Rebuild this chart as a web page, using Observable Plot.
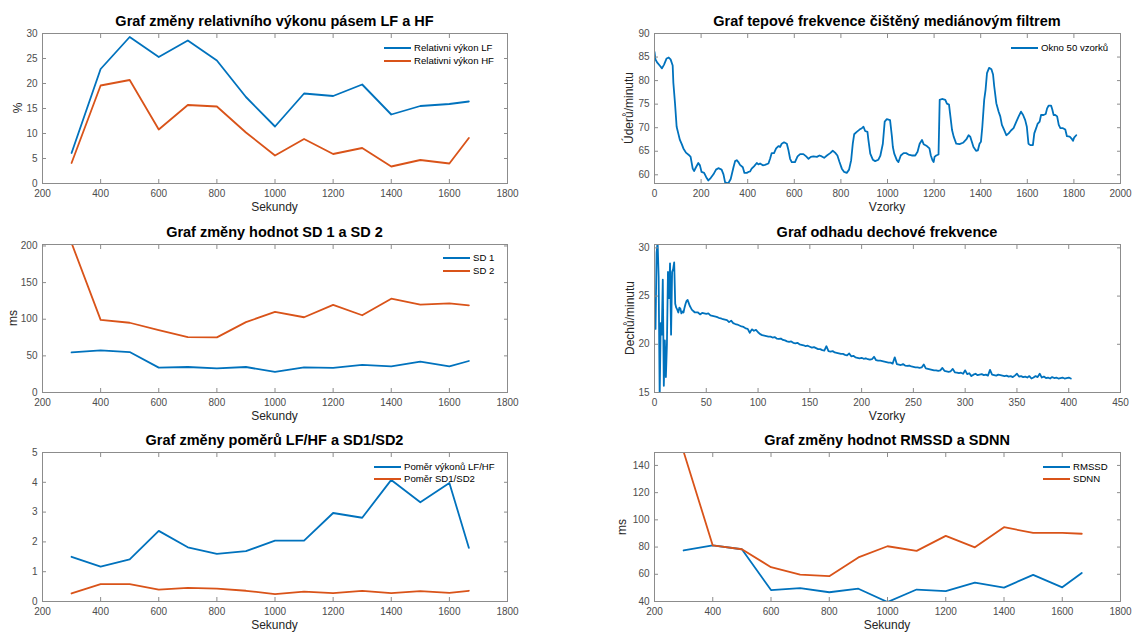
<!DOCTYPE html>
<html><head><meta charset="utf-8">
<script src="https://cdn.jsdelivr.net/npm/d3@7"></script>
<script src="https://cdn.jsdelivr.net/npm/@observablehq/plot@0.6"></script>
<style>
body{margin:0;background:#fff;}
#c{position:relative;width:1132px;height:633px;overflow:hidden;background:#fff;font-family:"Liberation Sans",Arial,sans-serif;}
#c svg{position:absolute;}
.t{position:absolute;white-space:nowrap;transform:translate(-50%,-50%);line-height:1;}
.ttl{font-weight:bold;font-size:14.5px;color:#000;}
.lab{font-size:12px;color:#262626;}
.rot{transform:translate(-50%,-50%) rotate(-90deg);}
.leg{position:absolute;font-size:9.6px;color:#000;white-space:nowrap;line-height:1;transform:translateY(-50%);}
.sw{position:absolute;height:2px;transform:translateY(-50%);}
</style></head><body><div id="c"></div>
<script>
// ---------- data ----------
const seconds = [300,400,500,600,700,800,900,1000,1100,1200,1300,1400,1500,1600,1667];
const lfPower = [6.1,22.9,29.3,25.3,28.6,24.6,17.3,11.4,18.0,17.5,19.8,13.8,15.5,15.9,16.4];
const hfPower = [4.1,19.6,20.7,10.8,15.7,15.4,10.2,5.6,8.9,5.9,7.1,3.4,4.7,4.0,9.1];
const sd1 = [54.8,57.5,55.2,34.0,34.8,32.8,34.8,28.0,34.4,33.5,37.6,35.7,42.0,35.7,43.0];
const sd2 = [204,99.1,95.2,85.0,75.6,75.3,96.0,110.0,102.7,119.5,105.4,128.0,120.0,121.7,119.0];
const ratioLFHF = [1.50,1.17,1.41,2.37,1.82,1.60,1.69,2.04,2.04,2.97,2.81,4.08,3.33,3.98,1.80];
const ratioSD = [0.27,0.58,0.58,0.40,0.46,0.43,0.36,0.25,0.33,0.28,0.36,0.28,0.35,0.29,0.36];
const rmssd = [77.5,81.2,78.4,48.4,49.8,46.8,49.4,39.6,48.8,47.6,53.8,50.2,59.6,50.4,61.0];
const sdnn = [150,81.2,78.4,65.2,59.8,58.6,72.4,80.6,77.2,88.2,79.8,94.6,90.4,90.4,89.8];

const hrSample = [0,4,12,24,32,41,52,61,69,78,81,88,95,102,109,117,124,135,150,155,164,170,178,188,195,202,213,222,231,241,253,264,274,288,296,303,317,327,339,346,353,360,367,379,386,396,403,410,417,427,439,446,453,465,474,489,496,503,513,522,532,539,546,556,568,575,582,589,603,614,625,639,651,661,671,682,697,708,718,728,740,754,765,775,785,794,804,814,825,835,844,851,857,868,880,890,897,904,914,918,926,937,947,961,969,980,988,997,1011,1019,1023,1029,1040,1047,1057,1069,1080,1090,1104,1119,1129,1138,1148,1155,1169,1180,1186,1193,1198,1202,1209,1219,1224,1234,1248,1255,1264,1270,1277,1284,1295,1309,1324,1338,1348,1355,1362,1369,1380,1388,1395,1401,1407,1415,1421,1427,1436,1446,1453,1458,1467,1477,1484,1491,1501,1510,1520,1530,1541,1553,1563,1573,1582,1591,1598,1605,1613,1624,1630,1638,1644,1653,1659,1670,1679,1685,1692,1702,1707,1713,1720,1728,1735,1742,1753,1763,1770,1782,1790,1796,1801,1810];
const hrBpm = [86.1,84.5,83.8,83.1,82.6,83.4,84.7,84.9,84.5,83.2,79.5,75.2,70.2,68.8,67.4,66.5,65.6,64.7,64.1,63.8,61.3,60.8,61.6,62.5,62.0,60.6,60.4,59.5,58.8,59.3,60.1,61.1,61.4,61.1,60.1,58.4,58.2,59.1,61.6,62.9,63.1,62.7,62.1,61.6,60.4,60.4,60.6,60.7,61.3,61.8,62.5,62.2,62.4,62.0,62.1,62.4,63.4,64.6,64.6,65.6,66.1,65.9,66.6,66.9,66.6,65.2,63.4,62.7,62.7,63.9,64.4,64.4,63.9,63.4,63.8,63.9,63.8,64.1,63.9,63.6,64.1,64.6,65.1,64.7,64.1,62.7,61.3,60.6,60.4,61.1,63.1,66.6,68.6,69.1,69.6,69.9,70.2,69.3,69.1,67.4,64.5,63.2,62.9,63.2,64.0,66.6,71.3,71.8,71.6,68.1,65.9,64.5,63.1,62.7,64.1,64.6,64.6,64.3,64.1,64.1,64.9,66.6,67.4,66.5,66.1,65.6,64.1,63.1,62.7,63.8,64.1,64.3,75.9,76.1,75.9,75.1,74.9,72.4,69.5,68.1,66.6,66.5,66.8,67.5,68.4,68.1,67.0,65.9,65.1,65.2,66.6,67.0,70.2,75.9,78.1,81.6,82.7,82.4,81.3,78.8,75.2,73.4,72.4,70.6,69.5,68.4,68.8,69.4,69.9,71.3,72.4,73.4,72.7,71.6,70.2,66.6,66.3,66.3,68.8,69.9,70.8,71.3,72.7,72.7,72.9,74.1,74.7,74.7,73.9,72.7,72.7,72.4,70.6,69.9,69.9,69.6,68.2,68.1,67.7,67.2,67.9,68.4];

// breathing rate: samples 1..40 one by one
const respEarly = [21.6,29.5,30.6,27.0,14.5,22.2,21.0,26.7,15.7,20.4,
  16.6,20.0,27.5,24.8,28.4,21.0,27.5,27.8,28.5,24.2,
  23.8,23.6,23.3,23.8,23.7,23.2,23.4,23.3,23.8,24.2,
  24.5,24.6,24.3,24.0,23.8,23.6,23.5,23.4,23.3,23.3];
// breathing rate: samples 42..402, every second sample
const respLate = [23.3,23.1,23.25,23.2,23.15,23.2,23.0,22.95,22.9,22.85,
  22.75,22.7,22.6,22.55,22.5,22.3,22.45,22.2,22.1,22.05,
  21.95,21.85,21.8,21.65,21.6,21.2,21.55,21.4,21.5,21.25,
  21.05,20.95,20.9,20.85,20.8,20.8,20.7,20.75,20.6,20.55,
  20.6,20.45,20.4,20.3,20.25,20.3,20.15,20.1,20.15,20.0,
  19.95,19.9,19.8,19.85,19.75,19.65,19.7,19.6,19.5,19.5,
  19.4,19.35,19.8,19.3,19.25,19.3,19.15,19.1,19.05,19.0,
  19.0,18.9,18.85,19.05,18.75,18.8,18.65,18.6,18.55,18.6,
  18.5,18.55,18.45,18.4,18.45,18.7,18.35,18.3,18.3,18.25,
  18.2,18.15,18.1,18.1,18.0,18.65,17.95,17.9,17.85,17.95,
  17.8,17.75,17.8,17.7,17.65,17.6,17.6,17.55,17.6,17.9,
  17.5,17.45,17.4,17.35,17.3,17.3,17.25,17.3,17.55,17.25,
  17.2,17.15,17.2,17.45,17.1,17.05,17.0,17.05,16.95,17.3,
  16.9,17.0,16.7,16.85,16.95,16.8,16.85,16.9,16.8,16.85,
  16.75,17.35,16.85,16.8,16.75,16.85,16.8,16.75,16.7,16.75,
  16.65,16.7,16.6,16.75,16.95,16.65,16.7,16.6,16.65,16.55,
  16.7,16.45,16.55,16.7,16.6,16.95,16.55,16.65,16.5,16.55,
  16.45,16.6,16.5,16.55,16.45,16.5,16.55,16.45,16.5,16.55,
  16.45];

const secTicks = [200,400,600,800,1000,1200,1400,1600,1800];
const pctTicks = [0,5,10,15,20,25,30];
const hrXTicks = [0,200,400,600,800,1000,1200,1400,1600,1800,2000];
const hrYTicks = [60,65,70,75,80,85,90];
const sdTicks = [0,50,100,150,200];
const respXTicks = [0,50,100,150,200,250,300,350,400,450];
const respYTicks = [15,20,25,30];
const ratioTicks = [0,1,2,3,4,5];
const msTicks = [40,60,80,100,120,140];

const BLUE = "#0072BD", ORANGE = "#D95319";
const AXIS = "#8c8c8c", TICKTXT = "#4d4d4d";

// ---------- helpers ----------
const root = document.getElementById("c");
const fmt = d => `${d}`;

function series(xs, ys) { return xs.map((x, i) => ({x, y: ys[i]})); }

function panel(cfg) {
  const marks = [];
  for (const s of cfg.series) {
    marks.push(Plot.line(s.data, {x: "x", y: "y", stroke: s.color, strokeWidth: 1.8, clip: true}));
  }
  const tk = {stroke: AXIS, tickSize: 4, tickFormat: () => "", label: null};
  marks.push(
    Plot.frame({stroke: AXIS}),
    Plot.axisX({...tk, anchor: "bottom", ticks: cfg.xTicks, dy: -4}),
    Plot.axisX({...tk, anchor: "top", ticks: cfg.xTicks, dy: 4}),
    Plot.axisY({...tk, anchor: "left", ticks: cfg.yTicks, dx: 4}),
    Plot.axisY({...tk, anchor: "right", ticks: cfg.yTicks, dx: -4}),
    Plot.axisX({anchor: "bottom", ticks: cfg.xTicks, tickSize: 0, tickPadding: 6, tickFormat: fmt, label: null, fill: TICKTXT}),
    Plot.axisY({anchor: "left", ticks: cfg.yTicks, tickSize: 0, tickPadding: 5, tickFormat: fmt, label: null, fill: TICKTXT})
  );
  const svg = Plot.plot({
    width: cfg.width, height: cfg.height,
    marginLeft: cfg.mL, marginRight: cfg.mR, marginTop: cfg.mT, marginBottom: cfg.mB,
    x: {domain: cfg.xDomain, axis: null},
    y: {domain: cfg.yDomain, axis: null},
    style: {fontSize: "10px", fontFamily: "Liberation Sans, Arial, sans-serif", background: "transparent", overflow: "visible"},
    marks
  });
  svg.style.left = cfg.left + "px";
  svg.style.top = cfg.top + "px";
  root.appendChild(svg);

  // title + axis labels
  const cx = cfg.left + cfg.mL + (cfg.width - cfg.mL - cfg.mR) / 2;
  const axTop = cfg.top + cfg.mT, axBot = cfg.top + cfg.height - cfg.mB;
  addText(cfg.title, "t ttl", cx, axTop - 12);
  if (cfg.xLabel) addText(cfg.xLabel, "t lab", cx, axBot + 24.3);
  if (cfg.yLabel) addText(cfg.yLabel, "t lab rot", cfg.yLabelX, (axTop + axBot) / 2);
  if (cfg.legend) {
    cfg.legend.forEach((l, i) => {
      const y = axTop + cfg.legend.y0 + i * 12.6;
      const sw = document.createElement("div");
      sw.className = "sw";
      sw.style.left = cfg.legend.x0 + "px"; sw.style.width = "27px";
      sw.style.top = y + "px"; sw.style.background = l.color;
      root.appendChild(sw);
      const tx = document.createElement("div");
      tx.className = "leg"; tx.textContent = l.label;
      tx.style.left = (cfg.legend.x0 + 30) + "px"; tx.style.top = y + "px";
      root.appendChild(tx);
    });
  }
}
function addText(txt, cls, x, y) {
  const d = document.createElement("div");
  d.className = cls; d.textContent = txt;
  d.style.left = x + "px"; d.style.top = y + "px";
  root.appendChild(d);
}
function legend(items, x0, y0) { const a = items.slice(); a.x0 = x0; a.y0 = y0; return a; }

const L = {left: 0, width: 560, mL: 42, mR: 53};
const R = {left: 560, width: 572, mL: 94, mR: 12};
const R1 = {top: 0, height: 205, mT: 33, mB: 22};
const R2 = {top: 215, height: 200, mT: 29, mB: 23};
const R3 = {top: 425, height: 208, mT: 27, mB: 32};

panel({...L, ...R1, xDomain: [200, 1800], yDomain: [0, 30], xTicks: secTicks, yTicks: pctTicks,
  title: "Graf změny relativního výkonu pásem LF a HF", xLabel: "Sekundy", yLabel: "%", yLabelX: 17.5,
  series: [{data: series(seconds, lfPower), color: BLUE}, {data: series(seconds, hfPower), color: ORANGE}],
  legend: legend([{label: "Relativni výkon LF", color: BLUE}, {label: "Relativni výkon HF", color: ORANGE}], 384, 15)});

panel({...R, ...R1, xDomain: [0, 2000], yDomain: [58.15, 90], xTicks: hrXTicks, yTicks: hrYTicks,
  title: "Graf tepové frekvence čištěný mediánovým filtrem", xLabel: "Vzorky", yLabel: "Úderů/minutu", yLabelX: 629,
  series: [{data: series(hrSample, hrBpm), color: BLUE}],
  legend: legend([{label: "Okno 50 vzorků", color: BLUE}], 1011, 15)});

panel({...L, ...R2, xDomain: [200, 1800], yDomain: [0, 202], xTicks: secTicks, yTicks: sdTicks,
  title: "Graf změny hodnot SD 1 a SD 2", xLabel: "Sekundy", yLabel: "ms", yLabelX: 13,
  series: [{data: series(seconds, sd1), color: BLUE}, {data: series(seconds, sd2), color: ORANGE}],
  legend: legend([{label: "SD 1", color: BLUE}, {label: "SD 2", color: ORANGE}], 443, 14)});

const respSamples = d3.range(1, 41).concat(d3.range(42, 404, 2));
panel({...R, ...R2, xDomain: [0, 450], yDomain: [15, 30.35], xTicks: respXTicks, yTicks: respYTicks,
  title: "Graf odhadu dechové frekvence", xLabel: "Vzorky", yLabel: "Dechů/minutu", yLabelX: 629.5,
  series: [{data: series(respSamples, respEarly.concat(respLate)), color: BLUE}]});

panel({...L, ...R3, xDomain: [200, 1800], yDomain: [0, 5], xTicks: secTicks, yTicks: ratioTicks,
  title: "Graf změny poměrů LF/HF a SD1/SD2", xLabel: "Sekundy",
  series: [{data: series(seconds, ratioLFHF), color: BLUE}, {data: series(seconds, ratioSD), color: ORANGE}],
  legend: legend([{label: "Poměr výkonů LF/HF", color: BLUE}, {label: "Poměr SD1/SD2", color: ORANGE}], 374, 14.5)});

panel({...R, ...R3, xDomain: [200, 1800], yDomain: [40, 149.5], xTicks: secTicks, yTicks: msTicks,
  title: "Graf změny hodnot RMSSD a SDNN", xLabel: "Sekundy", yLabel: "ms", yLabelX: 622,
  series: [{data: series(seconds, rmssd), color: BLUE}, {data: series(seconds, sdnn), color: ORANGE}],
  legend: legend([{label: "RMSSD", color: BLUE}, {label: "SDNN", color: ORANGE}], 1043, 14.5)});
</script></body></html>
